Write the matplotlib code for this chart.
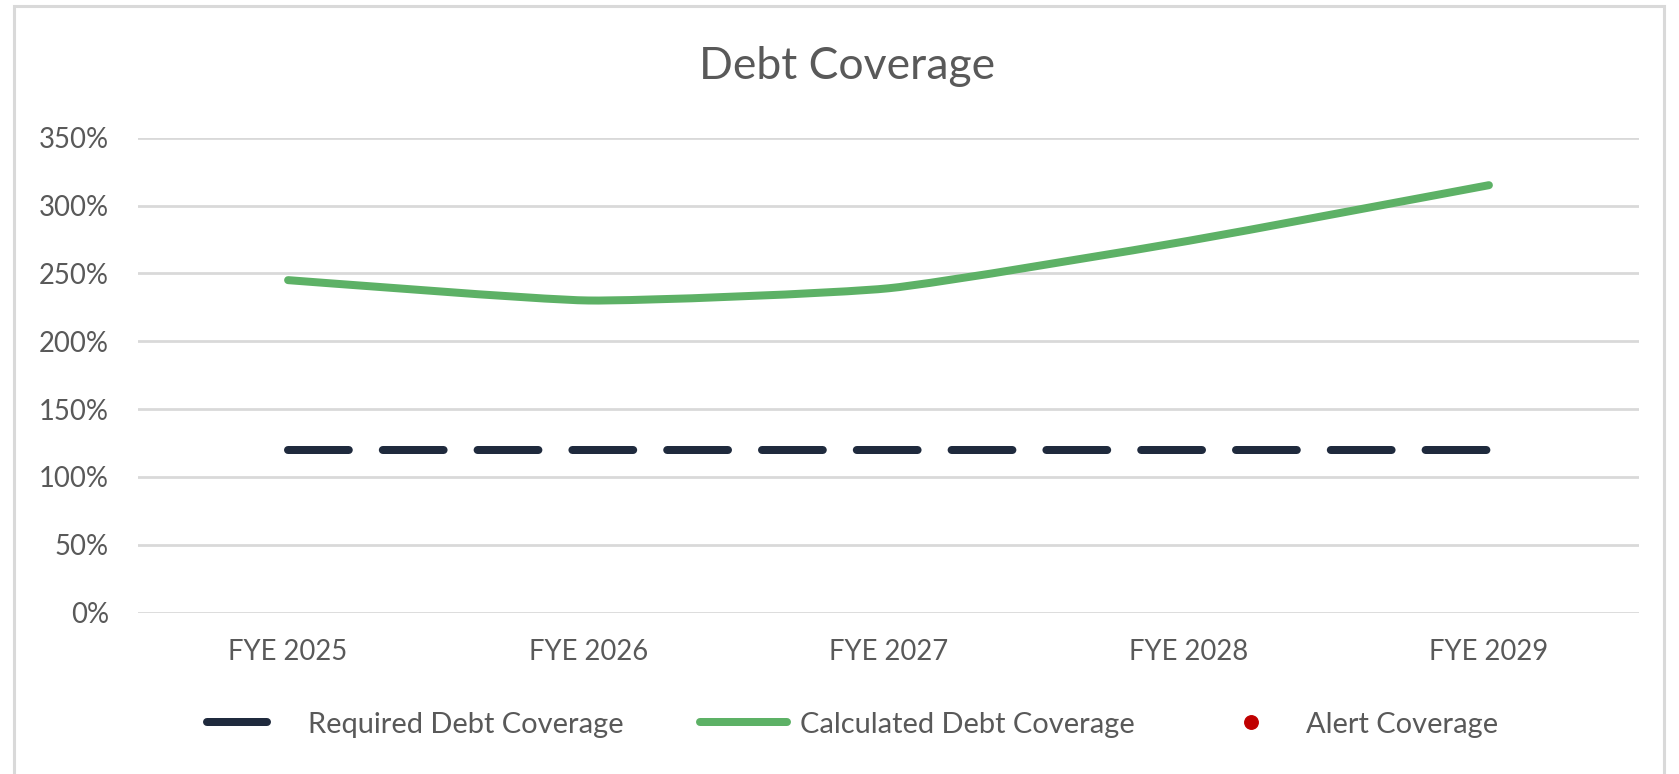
import numpy as np
import matplotlib
matplotlib.use("Agg")
import matplotlib.pyplot as plt
from matplotlib.path import Path
from matplotlib.patches import PathPatch, Rectangle
from matplotlib.lines import Line2D
from matplotlib.ticker import FuncFormatter

plt.rcParams['font.family'] = ['Lato', 'DejaVu Sans']

# Chart data (percent)
years = ['FYE 2025', 'FYE 2026', 'FYE 2027', 'FYE 2028', 'FYE 2029']
required = [120, 120, 120, 120, 120]
calculated = [245, 230, 239, 274, 315]
alert = [np.nan, np.nan, np.nan, np.nan, np.nan]
y_ticks = [0, 50, 100, 150, 200, 250, 300, 350]

NAVY = '#1f2a3d'
GREEN = '#5db166'
RED = '#c00000'
TEXT = '#595959'
GRID = '#d9d9d9'

W, H = 1679, 774
fig = plt.figure(figsize=(W / 100, H / 100), dpi=100)
ax = fig.add_axes([138 / W, 1 - 612.5 / H, (1639 - 138) / W, (612.5 - 137.7) / H])

x = np.arange(len(years))

# grid
ax.set_ylim(0, 350)
ax.set_xlim(-0.5, len(years) - 0.5)
ax.set_yticks(y_ticks)
ax.yaxis.set_major_formatter(FuncFormatter(lambda v, p: f'{v:.0f}%'))
ax.set_xticks(x)
ax.set_xticklabels(years)
ax.grid(axis='y', color=GRID, linewidth=2.0)
ax.set_axisbelow(True)
for s in ax.spines.values():
    s.set_visible(False)
ax.tick_params(axis='both', length=0, labelsize=19.8, labelcolor=TEXT)
ax.tick_params(axis='y', pad=21)
ax.tick_params(axis='x', pad=19)

# required coverage (dashed)
ax.plot(x, required, color=NAVY, linewidth=5.76, dashes=(7.6, 4.25),
        dash_capstyle='round', solid_capstyle='round', zorder=3)

# calculated coverage, lightly smoothed (bezier through the points)
pts = np.column_stack([x, calculated]).astype(float)
verts = [pts[0]]
codes = [Path.MOVETO]
n = len(pts)
k = 1 / 12
for i in range(n - 1):
    p0 = pts[max(i - 1, 0)]
    p1 = pts[i]
    p2 = pts[i + 1]
    p3 = pts[min(i + 2, n - 1)]
    verts += [p1 + (p2 - p0) * k, p2 - (p3 - p1) * k, p2]
    codes += [Path.CURVE4] * 3
ax.add_patch(PathPatch(Path(verts, codes), fill=False, edgecolor=GREEN,
                       linewidth=5.76, capstyle='round', joinstyle='round', zorder=4))

# alert coverage (no points shown)
ax.plot(x, alert, 'o', color=RED, markersize=9.7, zorder=5)

# title
fig.text(847.5 / W, 1 - 79.3 / H, 'Debt Coverage', ha='center', va='baseline',
         fontsize=32, color=TEXT)

# legends, one per entry so each can have its own spacing
LEG_FS = 20.9
ly = 1 - 724.5 / H
em = LEG_FS * 100 / 72
h_req = Line2D([], [], color=NAVY, linewidth=5.76, solid_capstyle='round')
h_calc = Line2D([], [], color=GREEN, linewidth=5.76, solid_capstyle='round')
h_alert = Line2D([], [], color=RED, linestyle='none', marker='o', markersize=9.7)
entries = [
    (h_req, 'Required Debt Coverage', 207, 60, 41),
    (h_calc, 'Calculated Debt Coverage', 700, 87, 13),
    (h_alert, 'Alert Coverage', 1223.5, 55, 27.5),
]
for h, label, x0, hl, tp in entries:
    fig.legend(handles=[h], labels=[label], loc='center left',
               bbox_to_anchor=(x0 / W, ly), frameon=False, borderpad=0,
               borderaxespad=0, handlelength=hl / em, handletextpad=tp / em,
               fontsize=LEG_FS, labelcolor=TEXT)

# chart border
fig.patches.append(Rectangle((14 / W, -0.05), (1664 - 14) / W, 1.05 - 5.5 / H,
                             transform=fig.transFigure, fill=False,
                             edgecolor=GRID, linewidth=2.2))

fig.savefig('out.png', dpi=100, facecolor='white')
